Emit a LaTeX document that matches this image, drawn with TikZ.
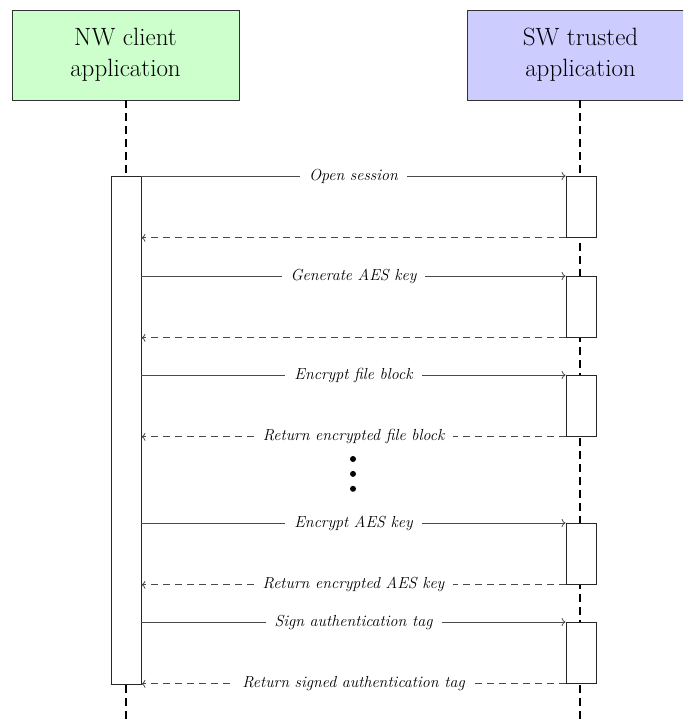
\documentclass[tikz,border=0pt]{standalone}
\usetikzlibrary{arrows.meta, positioning}
\definecolor{cgreen}{HTML}{CCFFCC}
\definecolor{cviolet}{HTML}{CCCCFF}
\definecolor{cgrey}{HTML}{4A4A4A}
\tikzset{
  head/.style={draw=black!80, fill=#1, minimum width=227pt, minimum height=90pt, align=center, inner sep=0pt, line width=0.8pt, font=\fontsize{25}{31}\selectfont},
  head/.default=cgreen,
  lifeline/.style={draw=black, line width=1.8pt, dash pattern=on 8pt off 5pt},
  act/.style={draw=black!85, fill=white, minimum width=30pt, minimum height=61pt, inner sep=0pt, line width=0.8pt},
  call/.style={-{To[length=4pt, width=8pt]}, draw=cgrey, line width=0.8pt},
  ret/.style={call, dash pattern=on 7pt off 5pt},
  msg/.style={fill=white, inner xsep=9pt, inner ysep=1pt, font=\fontsize{16}{19}\selectfont\itshape},
  dot/.style={circle, fill=black, inner sep=0pt, minimum size=6pt},
}

\begin{document}
\begin{tikzpicture}[x=1pt, y=-1pt]
  \useasboundingbox (0,0) rectangle (683,722);
  \clip (0,0) rectangle (683,722);
  \node[head=cgreen] (nw) at (125.5,55) {NW client\\application};
  \node[head=cviolet] (sw) at (580.5,55) {SW trusted\\application};
  \coordinate (endL) at (126,722);
  \coordinate (endR) at (580,722);
  \draw[lifeline] (nw.south -| endL) -- (endL);
  \draw[lifeline] (sw.south -| endR) -- (endR);
  \node[act, minimum height=508pt] (L) at (126,430) {};
  \foreach \i/\t/\a in {1/176/Open session, 2/276/Generate AES key, 3/375/Encrypt file block,
                        4/523/Encrypt AES key, 5/622/Sign authentication tag} {
    \node[act, anchor=north] (a\i) at (581,\t) {};
    \draw[call] (a\i.north west -| L.east) -- node[msg] {\a} (a\i.north west);
    \draw[ret] (a\i.south west) -- (a\i.south west -| L.east);
  }
  \foreach \i/\b in {3/Return encrypted file block, 4/Return encrypted AES key, 5/Return signed authentication tag}
    \path (a\i.south west) -- node[msg] {\b} (a\i.south west -| L.east);
  \node[dot] (d1) at (353,459) {};
  \node[dot, below=8.5pt of d1] (d2) {};
  \node[dot, below=8.5pt of d2] (d3) {};
\end{tikzpicture}
\end{document}
